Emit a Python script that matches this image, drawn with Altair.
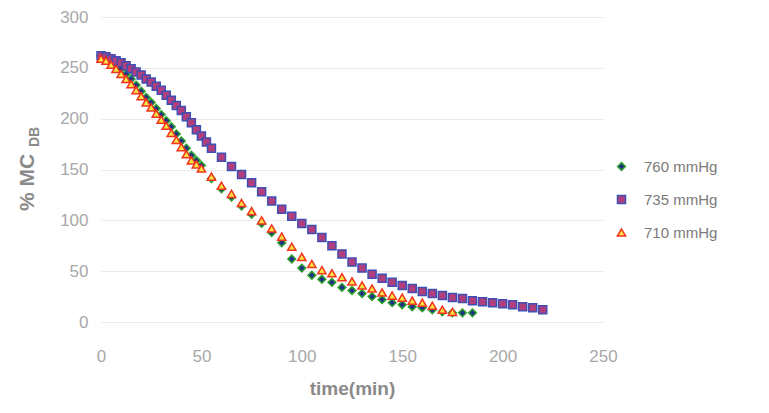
import altair as alt
import pandas as pd

FONT = "Liberation Sans"

series_names = ["760 mmHg", "735 mmHg", "710 mmHg"]
series_shapes = ["diamond", "square", "triangle-up"]
series_fills = ["#1f2f8a", "#b23f7d", "#f7e443"]
series_strokes = ["#2ca02c", "#3c4fb5", "#f2331f"]
series_sizes = [60, 68, 80]

x_ticks = [0, 50, 100, 150, 200, 250]
y_ticks = [0, 50, 100, 150, 200, 250, 300]

# 760 mmHg
t_760 = [0, 2.5, 5, 7.5, 10, 12.5, 15, 17.5, 20, 22.5, 25, 27.5, 30, 32.5, 35, 37.5,
         40, 42.5, 45, 47.5, 50, 55, 60, 65, 70, 75, 80, 85, 90, 95, 100, 105, 110,
         115, 120, 125, 130, 135, 140, 145, 150, 155, 160, 165, 170, 175, 180, 185]
v_760 = [262, 260, 257, 253, 249, 244, 239, 233, 227, 221, 216, 210, 204, 198, 192, 185,
         178, 171, 164, 159, 154, 141, 131, 123, 114, 106, 97, 88, 78, 62, 53, 46, 42,
         39, 34, 31, 28, 25, 22, 19, 17, 15, 14, 12, 10, 9, 9, 9]

# 735 mmHg
t_735 = [0, 2.5, 5, 7.5, 10, 12.5, 15, 17.5, 20, 22.5, 25, 27.5, 30, 32.5, 35, 37.5,
         40, 42.5, 45, 47.5, 50, 52.5, 55, 60, 65, 70, 75, 80, 85, 90, 95, 100, 105,
         110, 115, 120, 125, 130, 135, 140, 145, 150, 155, 160, 165, 170, 175, 180,
         185, 190, 195, 200, 205, 210, 215, 220]
v_735 = [262, 261, 259, 257, 255, 252, 249, 246, 243, 239, 236, 232, 228, 223, 218, 213,
         208, 202, 196, 189, 183, 177, 171, 162, 153, 145, 137, 128, 119, 111, 104, 97, 91,
         83, 75, 67, 59, 53, 47, 43, 39, 36, 33, 30, 28, 26, 24, 23,
         21, 20, 19, 18, 17, 15, 14, 12]

# 710 mmHg
t_710 = [0, 2.5, 5, 7.5, 10, 12.5, 15, 17.5, 20, 22.5, 25, 27.5, 30, 32.5, 35, 37.5,
         40, 42.5, 45, 47.5, 50, 55, 60, 65, 70, 75, 80, 85, 90, 95, 100, 105, 110,
         115, 120, 125, 130, 135, 140, 145, 150, 155, 160, 165, 170, 175]
v_710 = [259, 257, 253, 249, 244, 239, 234, 228, 222, 216, 211, 205, 199, 193, 186, 179,
         172, 165, 159, 155, 151, 143, 134, 126, 117, 109, 100, 92, 84, 74, 64, 57, 51,
         48, 44, 40, 36, 33, 29, 26, 24, 21, 19, 16, 12, 10]

rows = []
for rank, (name, ts, vs) in enumerate([
    (series_names[0], t_760, v_760),
    (series_names[1], t_735, v_735),
    (series_names[2], t_710, v_710),
]):
    for t, v in zip(ts, vs):
        rows.append({"time": t, "mc": v, "series": name, "rank": rank})
df = pd.DataFrame(rows)

legend = alt.Legend(
    title=None, orient="none", legendX=513, legendY=142,
    labelFont=FONT, labelFontSize=15, labelColor="#7a7a7a",
    symbolStrokeWidth=1.5, rowPadding=17, labelOffset=15, padding=0,
)

points = alt.Chart(df).mark_point(filled=True, strokeWidth=1.5, opacity=1).encode(
    x=alt.X("time:Q",
            scale=alt.Scale(domain=[0, 250], nice=False),
            axis=alt.Axis(values=x_ticks, title="time(min)", grid=False, domain=False,
                          ticks=False, tickSize=0, labelPadding=26, labelFlush=False,
                          labelFont=FONT, labelFontSize=17, labelColor="#a8a8a8",
                          titleFont=FONT, titleFontSize=19, titleFontWeight="bold",
                          titleColor="#8a8a8a", titleY=66, titleBaseline="middle")),
    y=alt.Y("mc:Q",
            scale=alt.Scale(domain=[0, 300], nice=False),
            axis=alt.Axis(values=y_ticks, title="% MC", grid=True, gridColor="#ebebeb",
                          domain=False, ticks=False, tickSize=0, labelPadding=13,
                          labelFont=FONT, labelFontSize=17, labelColor="#a8a8a8",
                          titleFont=FONT, titleFontSize=21, titleFontWeight="bold",
                          titleColor="#8a8a8a", titleAngle=270, titleX=-74, titleY=165,
                          titleAlign="center", titleBaseline="middle")),
    shape=alt.Shape("series:N", scale=alt.Scale(domain=series_names, range=series_shapes), legend=legend),
    fill=alt.Fill("series:N", scale=alt.Scale(domain=series_names, range=series_fills), legend=legend),
    stroke=alt.Stroke("series:N", scale=alt.Scale(domain=series_names, range=series_strokes), legend=legend),
    size=alt.Size("series:N", scale=alt.Scale(domain=series_names, range=series_sizes), legend=legend),
    order=alt.Order("rank:Q"),
)

sub = alt.Chart(pd.DataFrame({"s": ["DB"]})).mark_text(
    angle=270, font=FONT, fontSize=14, fontWeight="bold", color="#8a8a8a",
    align="center", baseline="middle",
).encode(text="s:N", x=alt.value(-66), y=alt.value(120))

chart = alt.layer(points, sub).properties(
    width=502, height=305,
    autosize=alt.AutoSizeParams(type="none"),
    padding={"left": 93, "top": 9, "right": 150, "bottom": 84},
    background="white",
).configure_view(stroke=None)

chart.save("out.html", embed_options={"renderer": "svg", "actions": False})
